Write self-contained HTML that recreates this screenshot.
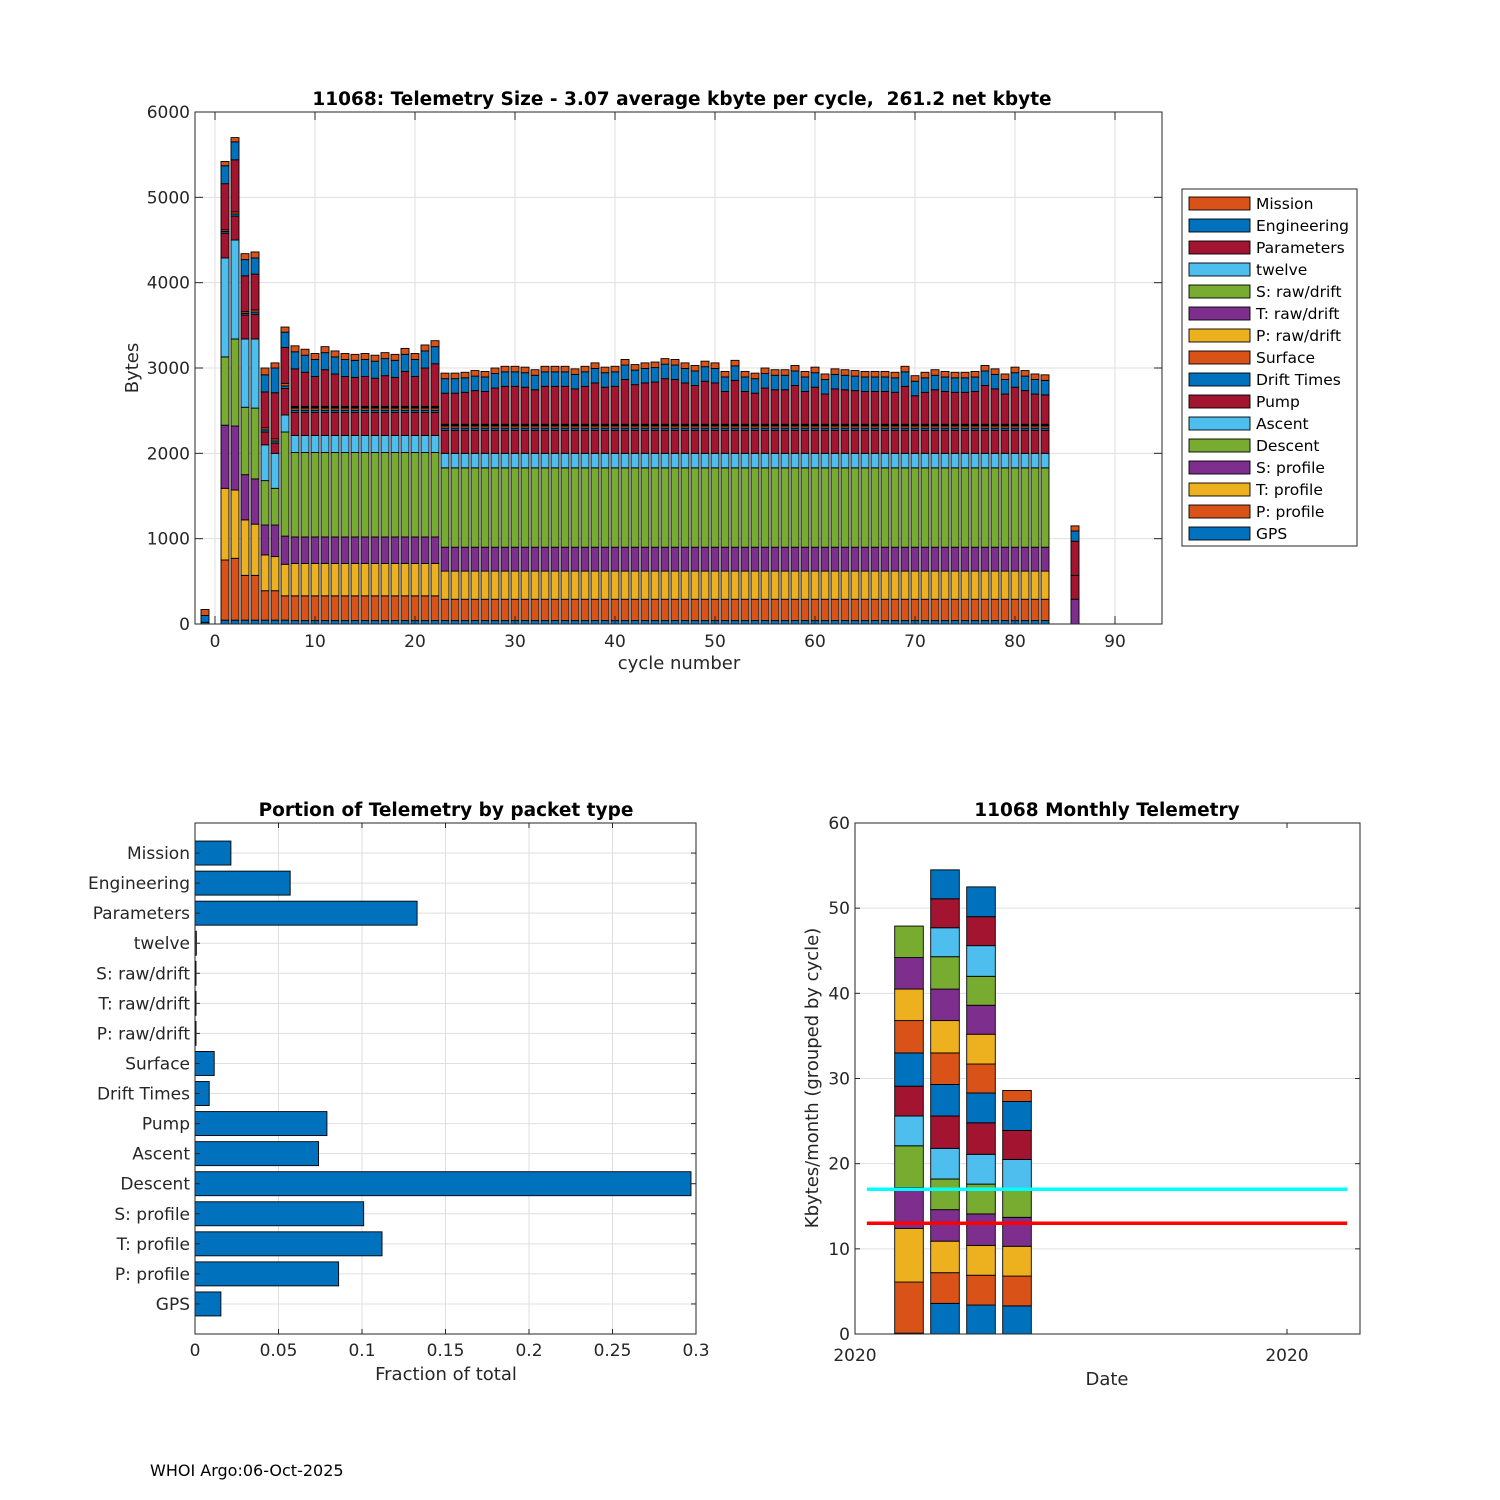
<!DOCTYPE html>
<html><head><meta charset="utf-8"><style>
html,body{margin:0;padding:0;background:#fff;}
svg{display:block;font-family:"DejaVu Sans","Liberation Sans",sans-serif;}
text{white-space:pre;}
</style></head><body>
<svg id="fig" width="1500" height="1500" viewBox="0 0 1500 1500" xmlns="http://www.w3.org/2000/svg">
<rect x="0" y="0" width="1500" height="1500" fill="#fff"/>
<g id="top"></g><g id="bl"></g><g id="br"></g>
<text x="150" y="1476" font-size="16" fill="#000">WHOI Argo:06-Oct-2025</text>
</svg>
<script>
// ---------- top chart data ----------
const seriesNames = ["GPS","P: profile","T: profile","S: profile","Descent","Ascent","Pump","Drift Times","Surface","P: raw/drift","T: raw/drift","S: raw/drift","twelve","Parameters","Engineering","Mission"];
const seriesColors = ["#0072BD","#D95319","#EDB120","#7E2F8E","#77AC30","#4DBEEE","#A2142F","#0072BD","#D95319","#EDB120","#7E2F8E","#77AC30","#4DBEEE","#A2142F","#0072BD","#D95319"];
const cycles = [-1,1,2,3,4,5,6,7,8,9,10,11,12,13,14,15,16,17,18,19,20,21,22,23,24,25,26,27,28,29,30,31,32,33,34,35,36,37,38,39,40,41,42,43,44,45,46,47,48,49,50,51,52,53,54,55,56,57,58,59,60,61,62,63,64,65,66,67,68,69,70,71,72,73,74,75,76,77,78,79,80,81,82,83,86];
const gps = [20,45,45,45,45,45,45,45,
 40,40,40,40,40,40,40,40,40,40,40,40,40,40,40,
 40,40,40,40,40,40,40,40,40,40, 40,40,40,40,40,40,40,40,40,40, 40,40,40,40,40,40,40,40,40,40, 40,40,40,40,40,40,40,40,40,40, 40,40,40,40,40,40,40,40,40,40, 40,40,40,40,40,40,40,40,40,40, 40, 0];
const pProfile = [0,705,725,525,525,345,345,285,
 290,290,290,290,290,290,290,290,290,290,290,290,290,290,290,
 250,250,250,250,250,250,250,250,250,250, 250,250,250,250,250,250,250,250,250,250, 250,250,250,250,250,250,250,250,250,250, 250,250,250,250,250,250,250,250,250,250, 250,250,250,250,250,250,250,250,250,250, 250,250,250,250,250,250,250,250,250,250, 250, 0];
const tProfile = [0,840,800,650,600,420,400,370,
 380,380,380,380,380,380,380,380,380,380,380,380,380,380,380,
 330,330,330,330,330,330,330,330,330,330, 330,330,330,330,330,330,330,330,330,330, 330,330,330,330,330,330,330,330,330,330, 330,330,330,330,330,330,330,330,330,330, 330,330,330,330,330,330,330,330,330,330, 330,330,330,330,330,330,330,330,330,330, 330, 0];
const sProfile = [0,740,750,530,530,350,370,330,
 310,310,310,310,310,310,310,310,310,310,310,310,310,310,310,
 280,280,280,280,280,280,280,280,280,280, 280,280,280,280,280,280,280,280,280,280, 280,280,280,280,280,280,280,280,280,280, 280,280,280,280,280,280,280,280,280,280, 280,280,280,280,280,280,280,280,280,280, 280,280,280,280,280,280,280,280,280,280, 280, 290];
const descent = [0,800,1020,790,830,520,430,1220,
 990,990,990,990,990,990,990,990,990,990,990,990,990,990,990,
 930,930,930,930,930,930,930,930,930,930, 930,930,930,930,930,930,930,930,930,930, 930,930,930,930,930,930,930,930,930,930, 930,930,930,930,930,930,930,930,930,930, 930,930,930,930,930,930,930,930,930,930, 930,930,930,930,930,930,930,930,930,930, 930, 0];
const ascent = [0,1160,1160,800,810,420,410,200,
 200,200,200,200,200,200,200,200,200,200,200,200,200,200,200,
 170,170,170,170,170,170,170,170,170,170, 170,170,170,170,170,170,170,170,170,170, 170,170,170,170,170,170,170,170,170,170, 170,170,170,170,170,170,170,170,170,170, 170,170,170,170,170,170,170,170,170,170, 170,170,170,170,170,170,170,170,170,170, 170, 0];
const pump = [0,290,280,280,290,150,120,310,
 270,270,270,270,270,270,270,270,270,270,270,270,270,270,270,
 270,270,270,270,270,270,270,270,270,270, 270,270,270,270,270,270,270,270,270,270, 270,270,270,270,270,270,270,270,270,270, 270,270,270,270,270,270,270,270,270,270, 270,270,270,270,270,270,270,270,270,270, 270,270,270,270,270,270,270,270,270,270, 270, 280];
const driftTimes = [0,20,25,20,25,25,25,30,
 25,25,25,25,25,25,25,25,25,25,25,25,25,25,25,
 25,25,25,25,25,25,25,25,25,25, 25,25,25,25,25,25,25,25,25,25, 25,25,25,25,25,25,25,25,25,25, 25,25,25,25,25,25,25,25,25,25, 25,25,25,25,25,25,25,25,25,25, 25,25,25,25,25,25,25,25,25,25, 25, 0];
const surface = [0,20,25,20,25,25,25,30,
 25,25,25,25,25,25,25,25,25,25,25,25,25,25,25,
 25,25,25,25,25,25,25,25,25,25, 25,25,25,25,25,25,25,25,25,25, 25,25,25,25,25,25,25,25,25,25, 25,25,25,25,25,25,25,25,25,25, 25,25,25,25,25,25,25,25,25,25, 25,25,25,25,25,25,25,25,25,25, 25, 0];
const pRaw = [0,0,0,0,0,0,0,0,
 5,5,5,5,5,5,5,5,5,5,5,5,5,5,5,
 5,5,5,5,5,5,5,5,5,5, 5,5,5,5,5,5,5,5,5,5, 5,5,5,5,5,5,5,5,5,5, 5,5,5,5,5,5,5,5,5,5, 5,5,5,5,5,5,5,5,5,5, 5,5,5,5,5,5,5,5,5,5, 5, 0];
const tRaw = [0,0,0,0,0,0,0,0,
 5,5,5,5,5,5,5,5,5,5,5,5,5,5,5,
 5,5,5,5,5,5,5,5,5,5, 5,5,5,5,5,5,5,5,5,5, 5,5,5,5,5,5,5,5,5,5, 5,5,5,5,5,5,5,5,5,5, 5,5,5,5,5,5,5,5,5,5, 5,5,5,5,5,5,5,5,5,5, 5, 0];
const sRaw = [0,0,0,0,0,0,0,0,
 5,5,5,5,5,5,5,5,5,5,5,5,5,5,5,
 5,5,5,5,5,5,5,5,5,5, 5,5,5,5,5,5,5,5,5,5, 5,5,5,5,5,5,5,5,5,5, 5,5,5,5,5,5,5,5,5,5, 5,5,5,5,5,5,5,5,5,5, 5,5,5,5,5,5,5,5,5,5, 5, 0];
const twelve = [0,0,0,0,0,0,0,0,
 5,5,5,5,5,5,5,5,5,5,5,5,5,5,5,
 5,5,5,5,5,5,5,5,5,5, 5,5,5,5,5,5,5,5,5,5, 5,5,5,5,5,5,5,5,5,5, 5,5,5,5,5,5,5,5,5,5, 5,5,5,5,5,5,5,5,5,5, 5,5,5,5,5,5,5,5,5,5, 5, 0];
const parameters = [0,540,610,420,420,420,540,420,
 440,400,350,430,380,350,340,350,330,360,340,410,350,450,500,
 365,365,375,395,385,425,445,445,435,405, 445,445,445,415,445,485,435,445,525,465, 485,495,535,525,485,455,505,485,385,515, 385,365,425,405,405,455,385,435,355,415, 405,395,385,385,385,375,445,335,375,405, 385,375,375,385,455,415,355,435,395,355, 345, 400];
const engineering = [80,210,210,190,190,200,290,180,
 200,200,200,200,200,200,200,200,200,200,200,200,200,200,200,
 170,170,170,170,170,170,170,170,170,170, 170,170,170,170,170,170,170,170,170,170, 170,170,170,170,170,170,170,170,170,170, 170,170,170,170,170,170,170,170,170,170, 170,170,170,170,170,170,170,170,170,170, 170,170,170,170,170,170,170,170,170,170, 170, 120];
const mission = [70,50,50,70,70,80,60,60,
 70,70,70,70,70,70,70,70,70,70,70,70,70,70,70,
 65,65,65,65,65,65,65,65,65,65, 65,65,65,65,65,65,65,65,65,65, 65,65,65,65,65,65,65,65,65,65, 65,65,65,65,65,65,65,65,65,65, 65,65,65,65,65,65,65,65,65,65, 65,65,65,65,65,65,65,65,65,65, 65, 60];
const topXTicks = [0,10,20,30,40,50,60,70,80,90];
const topYTicks = [0,1000,2000,3000,4000,5000,6000];

// ---------- bottom-left data ----------
const packetTypes = ["GPS","P: profile","T: profile","S: profile","Descent","Ascent","Pump","Drift Times","Surface","P: raw/drift","T: raw/drift","S: raw/drift","twelve","Parameters","Engineering","Mission"];
const packetFractions = [0.0155,0.086,0.112,0.101,0.297,0.074,0.079,0.0085,0.0115,0.0006,0.0006,0.0006,0.0008,0.133,0.057,0.0215];
const fracTicks = [0,0.05,0.1,0.15,0.2,0.25,0.3];
const fracTickLabels = ["0","0.05","0.1","0.15","0.2","0.25","0.3"];

// ---------- bottom-right data ----------
const monthPos = [1.5,2.5,3.5,4.5];
const monthSegments = [
 [0.1,6.0,6.3,4.8,4.9,3.5,3.5,3.9,3.8,3.7,3.7,3.7],
 [3.6,3.6,3.7,3.7,3.6,3.6,3.8,3.7,3.7,3.8,3.7,3.8,3.4,3.4,3.4],
 [3.4,3.5,3.5,3.7,3.5,3.5,3.7,3.5,3.4,3.5,3.4,3.4,3.6,3.4,3.5],
 [3.3,3.5,3.5,3.4,3.4,3.4,3.4,3.4,1.3]
];
const monthColors = ["#0072BD","#D95319","#EDB120","#7E2F8E","#77AC30","#4DBEEE","#A2142F"];
const monthYTicks = [0,10,20,30,40,50,60];
const dateTicks = [0,12];
const dateTickLabels = ["2020","2020"];
const meanLine = 17;
const medianLine = 13;

const NS = "http://www.w3.org/2000/svg";
function mk(parent, tag, attrs){ const e=document.createElementNS(NS,tag); for(const k in attrs) e.setAttribute(k,attrs[k]); parent.appendChild(e); return e; }
const AX="#262626", GRID="#dfdfdf", FS=17, TFS=18.5, LFS=18;

// ======== TOP CHART ========
(function(){
 const g=document.getElementById('top');
 const L=195,R=1162,T=112,B=624;
 const xs=c=>215+10*c, ys=v=>B-v*(B-T)/6000;
 const bg=mk(g,'rect',{x:L,y:T,width:R-L,height:B-T,fill:'#fff'});
 
 
 topXTicks.forEach(t=>{ mk(g,'line',{x1:xs(t),x2:xs(t),y1:T,y2:B,stroke:GRID,'stroke-width':1}); });
 topYTicks.forEach(t=>{ mk(g,'line',{x1:L,x2:R,y1:ys(t),y2:ys(t),stroke:GRID,'stroke-width':1}); });
 const series=[gps,pProfile,tProfile,sProfile,descent,ascent,pump,driftTimes,surface,pRaw,tRaw,sRaw,twelve,parameters,engineering,mission];
 cycles.forEach((c,i)=>{
  let acc=0;
  series.forEach((s,k)=>{
   const v=s[i]; if(!v) return;
   const r=mk(g,'rect',{x:xs(c)-4,y:ys(acc+v),width:8,height:ys(acc)-ys(acc+v),fill:seriesColors[k],stroke:'#000','stroke-width':0.9});
   
   
   acc+=v;
  });
 });
 mk(g,'rect',{x:L,y:T,width:R-L,height:B-T,fill:'none',stroke:AX,'stroke-width':1});
 topXTicks.forEach(t=>{
  mk(g,'line',{x1:xs(t),x2:xs(t),y1:B,y2:B-8,stroke:AX}); mk(g,'line',{x1:xs(t),x2:xs(t),y1:T,y2:T+8,stroke:AX});
  const tx=mk(g,'text',{x:xs(t),y:B+23,'font-size':FS,'text-anchor':'middle',fill:AX}); tx.textContent=t;
  
  
 });
 topYTicks.forEach(t=>{
  mk(g,'line',{x1:L,x2:L+8,y1:ys(t),y2:ys(t),stroke:AX}); mk(g,'line',{x1:R,x2:R-8,y1:ys(t),y2:ys(t),stroke:AX});
  const tx=mk(g,'text',{x:L-5,y:ys(t)+6,'font-size':FS,'text-anchor':'end',fill:AX}); tx.textContent=t;
  
  
 });
 let t=mk(g,'text',{x:682,y:105,'font-size':TFS,'font-weight':'bold','text-anchor':'middle',fill:'#000'}); t.textContent='11068: Telemetry Size - 3.07 average kbyte per cycle,  261.2 net kbyte';
 
 
 t=mk(g,'text',{x:679,y:669,'font-size':LFS,'text-anchor':'middle',fill:AX}); t.textContent='cycle number';
 
 
 t=mk(g,'text',{x:0,y:0,'font-size':LFS,'text-anchor':'middle',fill:AX,transform:'translate(138,368) rotate(-90)'}); t.textContent='Bytes';
 
 
 // legend
 const lg=mk(g,'g',{});
 
 
 mk(lg,'rect',{x:1182,y:189,width:175,height:357,fill:'#fff',stroke:AX,'stroke-width':1});
 for(let j=0;j<16;j++){
  const k=15-j, yy=203+22*j;
  const sw=mk(lg,'rect',{x:1189,y:yy-6,width:61,height:13,fill:seriesColors[k],stroke:'#000','stroke-width':0.9});
  
  
  const lt=mk(lg,'text',{x:1256,y:yy+6,'font-size':15.5,fill:'#000'}); lt.textContent=seriesNames[k];
  
  
 }
})();

// ======== BOTTOM LEFT ========
(function(){
 const g=document.getElementById('bl');
 const L=195,R=696,T=823,B=1334;
 const xs=f=>L+f*(R-L)/0.3, ys=i=>B-(B-T)/17*i;
 fracTicks.forEach(t=>mk(g,'line',{x1:xs(t),x2:xs(t),y1:T,y2:B,stroke:GRID}));
 packetTypes.forEach((p,i)=>mk(g,'line',{x1:L,x2:R,y1:ys(i+1),y2:ys(i+1),stroke:GRID}));
 packetTypes.forEach((p,i)=>{
  const v=packetFractions[i], yc=ys(i+1);
  const r=mk(g,'rect',{x:L,y:yc-12,width:xs(v)-L,height:24,fill:'#0072BD',stroke:'#000','stroke-width':0.9});
  
  
  const tx=mk(g,'text',{x:L-5,y:yc+6,'font-size':FS,'text-anchor':'end',fill:AX}); tx.textContent=p;
  
  
  mk(g,'line',{x1:L,x2:L+5,y1:yc,y2:yc,stroke:AX}); mk(g,'line',{x1:R,x2:R-5,y1:yc,y2:yc,stroke:AX});
 });
 mk(g,'rect',{x:L,y:T,width:R-L,height:B-T,fill:'none',stroke:AX});
 fracTicks.forEach((t,i)=>{
  mk(g,'line',{x1:xs(t),x2:xs(t),y1:B,y2:B-5,stroke:AX}); mk(g,'line',{x1:xs(t),x2:xs(t),y1:T,y2:T+5,stroke:AX});
  const tx=mk(g,'text',{x:xs(t),y:B+22,'font-size':FS,'text-anchor':'middle',fill:AX}); tx.textContent=fracTickLabels[i];
  
  
 });
 let t=mk(g,'text',{x:446,y:816,'font-size':TFS,'font-weight':'bold','text-anchor':'middle',fill:'#000'}); t.textContent='Portion of Telemetry by packet type';
 
 
 t=mk(g,'text',{x:446,y:1380,'font-size':LFS,'text-anchor':'middle',fill:AX}); t.textContent='Fraction of total';
 
 
})();

// ======== BOTTOM RIGHT ========
(function(){
 const g=document.getElementById('br');
 const L=855,R=1360,T=823,B=1334;
 const xs=m=>L+36*m, ys=v=>B-v*(B-T)/60;
 monthYTicks.forEach(t=>mk(g,'line',{x1:L,x2:R,y1:ys(t),y2:ys(t),stroke:GRID}));
 monthPos.forEach((m,i)=>{
  let acc=0;
  monthSegments[i].forEach((v,k)=>{
   const r=mk(g,'rect',{x:xs(m)-14.3,y:ys(acc+v),width:28.6,height:ys(acc)-ys(acc+v),fill:monthColors[k%7],stroke:'#000','stroke-width':0.9});
   
   
   acc+=v;
  });
 });
 let ln=mk(g,'line',{x1:xs(0.33),x2:xs(13.67),y1:ys(meanLine),y2:ys(meanLine),stroke:'#00FFFF','stroke-width':3.5});
 
 
 ln=mk(g,'line',{x1:xs(0.33),x2:xs(13.67),y1:ys(medianLine),y2:ys(medianLine),stroke:'#FF0000','stroke-width':3.5});
 
 
 mk(g,'rect',{x:L,y:T,width:R-L,height:B-T,fill:'none',stroke:AX});
 monthYTicks.forEach(t=>{
  mk(g,'line',{x1:L,x2:L+5,y1:ys(t),y2:ys(t),stroke:AX}); mk(g,'line',{x1:R,x2:R-5,y1:ys(t),y2:ys(t),stroke:AX});
  const tx=mk(g,'text',{x:L-5,y:ys(t)+6,'font-size':FS,'text-anchor':'end',fill:AX}); tx.textContent=t;
  
  
 });
 dateTicks.forEach((d,i)=>{
  mk(g,'line',{x1:xs(d),x2:xs(d),y1:B,y2:B-5,stroke:AX}); mk(g,'line',{x1:xs(d),x2:xs(d),y1:T,y2:T+5,stroke:AX});
  const tx=mk(g,'text',{x:xs(d),y:B+27,'font-size':FS,'text-anchor':'middle',fill:AX}); tx.textContent=dateTickLabels[i];
  
  
 });
 let t=mk(g,'text',{x:1107,y:816,'font-size':TFS,'font-weight':'bold','text-anchor':'middle',fill:'#000'}); t.textContent='11068 Monthly Telemetry';
 
 
 t=mk(g,'text',{x:1107,y:1385,'font-size':LFS,'text-anchor':'middle',fill:AX}); t.textContent='Date';
 
 
 t=mk(g,'text',{x:0,y:0,'font-size':LFS,'text-anchor':'middle',fill:AX,transform:'translate(818,1078) rotate(-90)'}); t.textContent='Kbytes/month (grouped by cycle)';
 
 
})();
</script>
</body></html>
